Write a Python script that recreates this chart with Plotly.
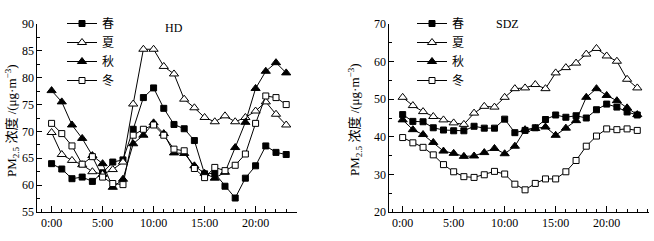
import plotly.graph_objects as go

hours = list(range(24))
tick_vals = [0, 5, 10, 15, 20]
tick_text = ["0:00", "5:00", "10:00", "15:00", "20:00"]
seasons = ["春", "夏", "秋", "冬"]

# HD site
hd_spring = [64.0, 63.0, 61.2, 61.5, 60.7, 62.3, 64.3, 64.7, 70.4, 76.3, 78.1, 74.3,
             71.3, 70.5, 68.3, 62.1, 62.2, 59.8, 57.6, 61.3, 63.6, 67.3, 66.1, 65.7]
hd_summer = [69.8, 65.7, 64.6, 63.8, 62.5, 62.0, 62.9, 64.3, 75.1, 85.3, 85.3, 82.1,
             80.7, 76.0, 74.4, 72.6, 71.8, 72.9, 71.8, 72.6, 73.8, 75.5, 73.2, 71.2]
hd_autumn = [77.6, 75.5, 71.2, 68.7, 65.5, 64.0, 59.6, 61.1, 67.7, 69.3, 71.6, 69.6,
             66.0, 65.9, 63.6, 62.2, 61.3, 62.4, 67.0, 71.7, 78.0, 81.2, 82.8, 80.9]
hd_winter = [71.5, 69.6, 67.3, 63.9, 65.3, 61.5, 60.3, 60.1, 69.3, 70.4, 71.2, 69.3,
             66.7, 66.4, 63.1, 61.4, 63.3, 62.7, 63.7, 65.8, 71.5, 76.6, 76.3, 75.0]

# SDZ site
sdz_spring = [45.9, 44.1, 44.0, 42.4, 41.8, 41.6, 41.6, 42.8, 42.3, 42.3, 44.7, 41.1,
              41.7, 42.4, 44.6, 45.8, 45.2, 45.6, 45.0, 47.2, 48.7, 47.9, 46.6, 45.8]
sdz_summer = [50.5, 48.3, 46.7, 45.4, 44.5, 43.7, 43.3, 46.3, 48.1, 47.9, 50.5, 52.8,
              53.0, 53.9, 52.8, 57.0, 58.4, 59.6, 62.0, 63.5, 61.5, 60.1, 55.3, 53.0]
sdz_autumn = [44.5, 41.9, 40.6, 38.5, 36.2, 35.6, 34.8, 34.9, 35.8, 36.9, 35.5, 37.5,
              41.9, 42.2, 42.6, 40.4, 42.3, 44.3, 50.5, 52.8, 51.0, 49.6, 47.7, 45.9]
sdz_winter = [39.8, 38.4, 37.2, 35.2, 32.6, 30.7, 29.4, 29.2, 29.9, 30.8, 30.1, 27.4,
              25.9, 27.6, 28.8, 28.8, 30.7, 33.7, 37.5, 40.2, 42.1, 41.9, 42.1, 41.7]

W, H = 654, 241
SERIF = "Liberation Serif, Times New Roman, Noto Sans CJK SC, serif"
CJK = "Noto Sans CJK SC, Liberation Serif, serif"

styles = [
    dict(symbol="square", size=6, color="black", line=dict(color="black", width=1)),
    dict(symbol="triangle-up", size=8, color="white", line=dict(color="black", width=1)),
    dict(symbol="triangle-up", size=8, color="black", line=dict(color="black", width=1)),
    dict(symbol="square", size=6, color="white", line=dict(color="black", width=1)),
]

fig = go.Figure()

def add_site(data, xa, ya, leg):
    for name, vals, st in zip(seasons, data, styles):
        fig.add_trace(go.Scatter(
            x=hours, y=vals, name=name, mode="lines+markers",
            line=dict(color="black", width=1), marker=st,
            xaxis=xa, yaxis=ya, legend=leg))

add_site([hd_spring, hd_summer, hd_autumn, hd_winter], "x", "y", "legend")
add_site([sdz_spring, sdz_summer, sdz_autumn, sdz_winter], "x2", "y2", "legend2")

def px(v):
    return v / W

def py(v):
    return 1 - v / H

common_x = dict(
    showgrid=False, zeroline=False, showline=True, linecolor="black", linewidth=1,
    automargin=False,
    ticks="inside", ticklen=6, tickcolor="black", tickwidth=1,
    tickvals=tick_vals, ticktext=tick_text,
    tickfont=dict(family=SERIF, size=12, color="black"),
    minor=dict(dtick=1, tick0=0, ticks="inside", ticklen=3, tickcolor="black", tickwidth=1),
)
common_y = dict(
    showgrid=False, zeroline=False, showline=True, linecolor="black", linewidth=1,
    automargin=False,
    ticks="inside", ticklen=5, tickcolor="black", tickwidth=1,
    tickfont=dict(family=SERIF, size=12, color="black"),
)

fig.update_layout(
    template="none",
    width=W, height=H,
    margin=dict(l=0, r=0, t=0, b=0, pad=0, autoexpand=False),
    paper_bgcolor="white", plot_bgcolor="white",
    xaxis=dict(domain=[px(37.3), px(296.9)], range=[-1.4, 24.05], anchor="y", **common_x),
    yaxis=dict(domain=[py(212), py(24)], range=[55, 90], dtick=5, anchor="x",
               minor=dict(dtick=2.5, ticks="inside", ticklen=3, tickcolor="black"), **common_y),
    xaxis2=dict(domain=[px(389.3), px(648.5)], range=[-1.31, 24.1], anchor="y2", **common_x),
    yaxis2=dict(domain=[py(212), py(24)], range=[20, 70], dtick=10, anchor="x2",
                minor=dict(dtick=5, ticks="inside", ticklen=3, tickcolor="black"), **common_y),
    legend=dict(x=px(62), y=py(9), xanchor="left", yanchor="top",
                bgcolor="rgba(0,0,0,0)", font=dict(family=CJK, size=12, color="black"),
                tracegroupgap=0, borderwidth=0),
    legend2=dict(x=px(412), y=py(9), xanchor="left", yanchor="top",
                 bgcolor="rgba(0,0,0,0)", font=dict(family=CJK, size=12, color="black"),
                 tracegroupgap=0, borderwidth=0),
    showlegend=True,
)

ytitle = "PM<sub>2.5</sub> 浓度 /(μg·m<sup>−3</sup>)"
fig.add_annotation(text=ytitle, xref="paper", yref="paper", x=px(12), y=py(121),
                   textangle=-90, showarrow=False, xanchor="center", yanchor="middle",
                   font=dict(family=SERIF, size=13, color="black"))
fig.add_annotation(text=ytitle, xref="paper", yref="paper", x=px(355), y=py(120),
                   textangle=-90, showarrow=False, xanchor="center", yanchor="middle",
                   font=dict(family=SERIF, size=13, color="black"))
fig.add_annotation(text="HD", xref="paper", yref="paper", x=px(174), y=py(28),
                   showarrow=False, xanchor="center", yanchor="middle",
                   font=dict(family=SERIF, size=12, color="black"))
fig.add_annotation(text="SDZ", xref="paper", yref="paper", x=px(507), y=py(24),
                   showarrow=False, xanchor="center", yanchor="middle",
                   font=dict(family=SERIF, size=12, color="black"))

fig.write_html("out.html", config={"displayModeBar": False},
               post_script="document.body.style.margin='0';")
